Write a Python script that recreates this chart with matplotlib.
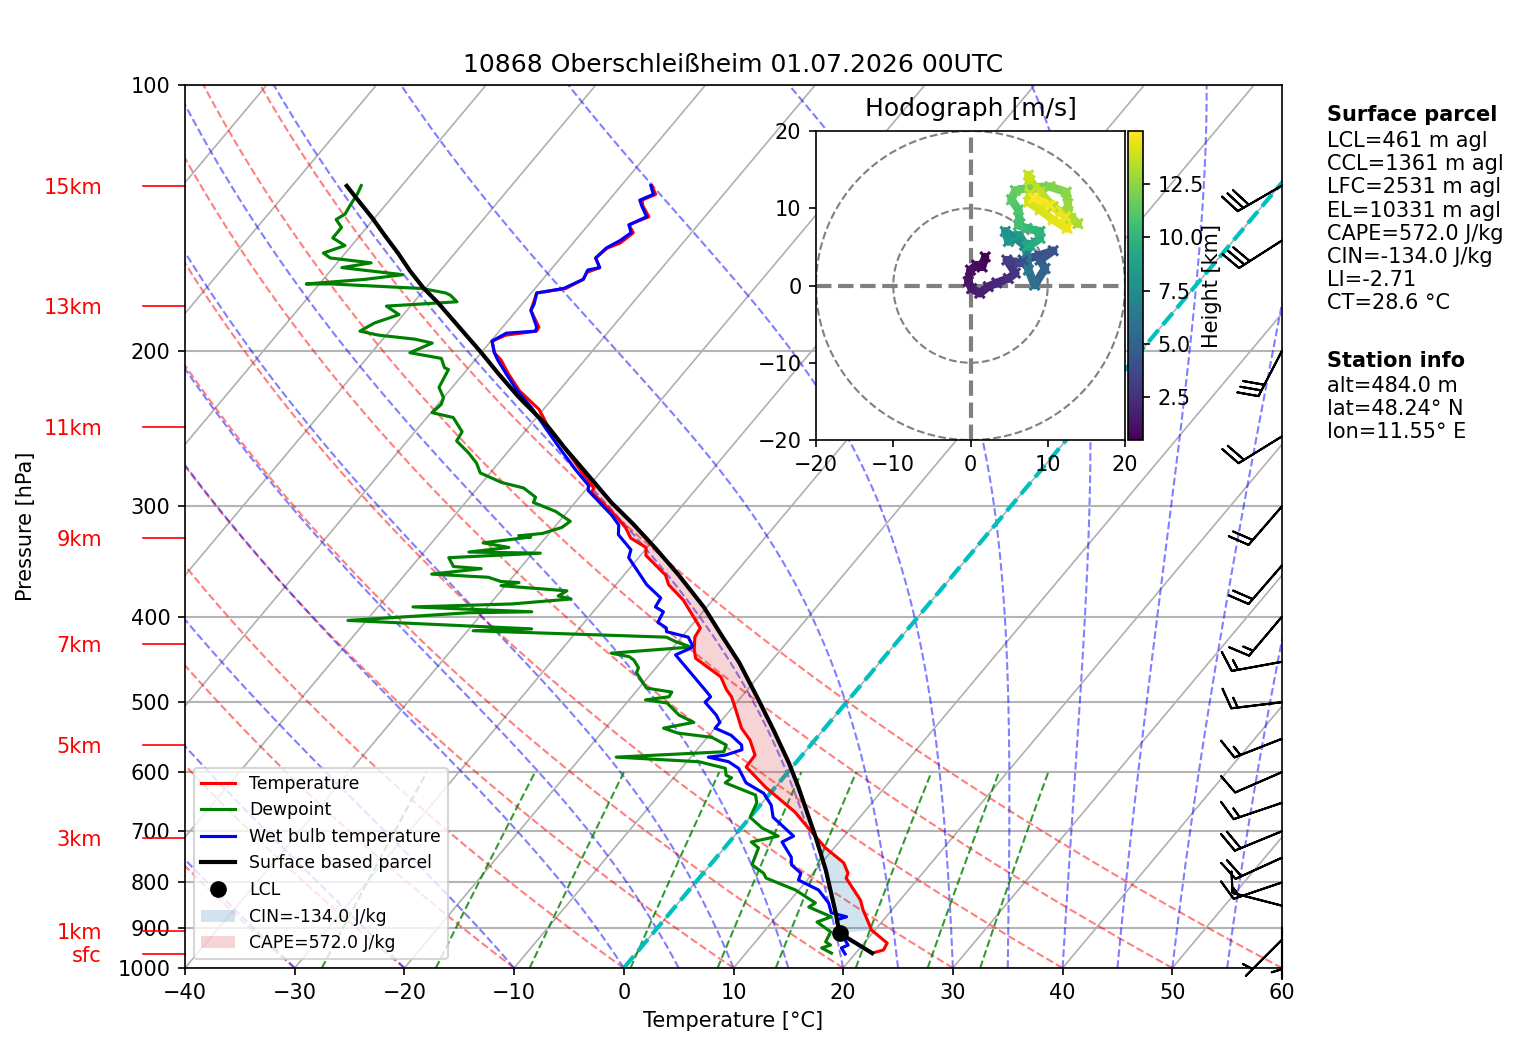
import numpy as np
import matplotlib
matplotlib.use("Agg")
import matplotlib.pyplot as plt
from matplotlib.collections import LineCollection
from matplotlib.ticker import ScalarFormatter, NullFormatter
from matplotlib.transforms import Affine2D

# sounding (hPa, degC)
temp_p = np.array([130,133,135,137,141,144,147,151,153,157,161,163,166,170,172,177,180,188,190,192,195,201,205,212,222,233,244,262,276,286,289,304,317,326,334,341,359,368,383,412,422,436,446,468,484,493,514,535,552,574,592,624,666,701,731,760,781,791,838,860,906,937,954,962], dtype=float)
temp_t = np.array([-57.2,-56.2,-57.0,-56.5,-55.1,-56.3,-55.3,-55.7,-56.5,-56.8,-55.7,-56.5,-56.3,-57.2,-59.5,-59.0,-58.7,-56.7,-56.6,-59.1,-59.9,-58.8,-57.6,-56.0,-53.6,-50.4,-48.2,-44.2,-41.4,-39.4,-39.3,-36.0,-33.5,-32.2,-30.1,-29.5,-26.2,-25.2,-22.7,-19.0,-18.8,-17.9,-17.1,-13.4,-11.9,-10.9,-9.2,-7.6,-5.9,-4.3,-4.2,-0.9,3.7,6.7,9.2,12.0,13.2,13.4,16.4,17.4,19.7,22.1,22.3,21.5])
wet_p = np.array([130,133,135,137,141,144,147,150,153,157,161,162,166,170,172,177,180,188,190,191,195,201,205,212,222,232,245,259,273,284,288,307,315,323,336,343,359,368,381,390,395,406,412,416,422,431,434,442,487,493,500,517,527,535,545,559,566,574,577,584,594,617,634,654,675,709,720,749,764,781,795,816,844,866,875,882,906,942,949,964], dtype=float)
wet_t = np.array([-57.3,-56.4,-57.2,-56.6,-55.3,-56.3,-55.5,-55.9,-56.6,-56.8,-55.7,-56.6,-56.3,-57.4,-59.5,-58.9,-58.7,-56.9,-56.7,-59.2,-59.9,-58.8,-57.9,-56.2,-53.8,-51.2,-48.3,-45.3,-42.4,-40.1,-39.7,-35.7,-34.3,-33.6,-31.3,-30.9,-28.5,-27.2,-24.9,-24.7,-23.6,-23.3,-22.1,-21.8,-19.4,-18.4,-18.3,-19.2,-13.5,-12.8,-12.9,-10.9,-10.0,-10.0,-8.0,-6.3,-5.9,-7.0,-8.4,-6.2,-4.8,-3.0,-0.6,1.0,2.1,5.4,4.8,6.8,7.4,8.9,9.2,11.8,13.7,14.7,16.4,15.7,16.7,18.7,18.3,19.1])
dew_p = np.array([130,133,137,140,142,145,149,152,155,157,159,161,164,166,168,168,170,172,173,176,178,182,186,190,192,194,196,201,204,209,210,220,226,230,235,238,247,253,261,268,275,282,286,293,297,304,312,317,322,324,325,330,334,338,339,343,351,353,358,361,365,366,369,374,379,382,387,390,395,396,404,413,415,422,427,433,440,444,448,457,463,482,487,493,497,501,517,527,535,542,548,559,569,577,584,594,605,609,617,637,650,675,694,709,720,731,764,781,791,816,844,853,875,887,910,934,942,949,962], dtype=float)
dew_t = np.array([-83.7,-83.4,-83.2,-83.0,-83.4,-82.3,-82.3,-80.6,-82.0,-81.0,-76.9,-79.2,-73.1,-76.2,-81.2,-78.9,-70.3,-67.8,-67.2,-66.1,-72.2,-70.4,-72.0,-72.7,-70.7,-67.1,-65.2,-66.5,-63.2,-62.2,-61.7,-61.2,-60.0,-59.7,-59.9,-57.6,-55.7,-55.5,-53.5,-52.0,-50.9,-48.2,-45.8,-44.0,-43.8,-41.1,-39.0,-39.3,-40.6,-42.6,-41.4,-45.3,-42.6,-45.9,-39.3,-47.3,-46.2,-43.5,-47.6,-42.2,-40.7,-39.0,-40.4,-34.0,-34.4,-33.0,-38.0,-46.8,-35.6,-41.3,-51.7,-34.3,-39.5,-21.4,-20.2,-18.4,-25.2,-23.3,-22.6,-21.6,-21.4,-19.3,-16.7,-16.6,-18.5,-16.3,-14.3,-12.4,-14.7,-13.0,-9.6,-7.7,-7.4,-16.8,-8.9,-6.0,-5.4,-4.7,-4.9,-1.2,-0.5,0.0,1.9,4.0,2.0,3.1,3.8,5.5,6.1,9.7,12.5,12.2,15.0,14.1,16.1,16.4,17.1,16.5,17.8])
parcel_p = np.array([130.1,135.7,141.5,147.9,155.0,162.5,169.8,176.6,187.9,200.6,212.4,225.6,234.6,244.0,257.7,272.9,297,314,334,359,390,420,451,497,538,586,624,711,774,866,913,962], dtype=float)
parcel_t = np.array([-85.0,-82.6,-80.2,-77.8,-75.2,-72.7,-70.2,-67.7,-64.0,-60.1,-56.8,-53.2,-50.7,-48.2,-45.1,-41.7,-36.7,-33.1,-29.3,-25.0,-20.3,-16.5,-12.8,-8.2,-4.5,-0.6,2.1,7.5,10.9,15.1,17.0,21.5])
lcl_p = [913]
lcl_t = [17.0]

height_labels = ["15km", "13km", "11km", "9km", "7km", "5km", "3km", "1km", "sfc"]
height_p = [130, 178, 244, 326, 430, 559, 712, 908, 964]

# wind barbs at the right edge (kt)
barb_p = np.array([130, 150, 200, 250, 300, 350, 400, 450, 500, 550, 600, 650, 700, 750, 800, 850, 900, 929], dtype=float)
barb_u = [26, 25, 14, 17, 13, 13, 9.7, 14.8, 14.9, 14, 9.2, 14.2, 18.5, 18.2, 14.2, 9.7, 0, 3.5]
barb_v = [15, 16, 27, 10.5, 15, 15, 11.5, 2.7, 1.8, 5.5, 4, 4.8, 7.6, 8.3, 4.8, -2.5, 5, 3.5]

# hodograph (m/s) with height (km)
hodo_u = [1.9,1.5,.8,0,-.3,.15,1.2,2.3,3.4,4.9,5.8,4.7,6.4,6.8,9,10.7,9,9.65,8.3,7.5,7.3,7,6,4.5,4.9,6.3,7.3,7.7,9,9,7.3,6.2,6.4,6.2,5.3,5.8,7.7,10.3,12.4,12.6,12.6,13.9,13,10.7,9,7.7,7.5,7.7,7.5,9,10.7,12.5,12.3,10.3,8.2]
hodo_v = [3.7,2.4,2.65,2,.5,-.4,-1,-.15,.35,.9,1.6,3.3,2.9,3.3,3.9,4.5,3.3,2.2,.05,2,4.2,5.2,6,7,5.7,6.5,5,5.2,6.1,7,7.4,7.8,8,9.8,11.1,12.3,12.7,12.8,12.1,10.6,9.3,8,8.7,10.2,12.1,13.6,14.3,11.9,10.8,9.8,8.5,7.4,8.9,10.4,11.3]
hodo_h = [.5,.7,.9,1.1,1.3,1.5,1.7,1.9,2.1,2.4,2.7,3.1,3.5,3.8,4.1,4.3,4.6,5,5.8,6.1,6.5,7,7.5,8,8.2,8.5,9.2,9.4,9.7,9.9,10.2,10.5,10.7,11,11.3,11.6,11.9,12.2,12.5,12.7,12.9,13.1,13.3,13.5,13.6,13.7,13.8,13.9,14,14.2,14.4,14.6,14.7,14.8,15]

parcel_lines = ["LCL=461 m agl", "CCL=1361 m agl", "LFC=2531 m agl", "EL=10331 m agl",
                "CAPE=572.0 J/kg", "CIN=-134.0 J/kg", "LI=-2.71", "CT=28.6 °C"]
station_lines = ["alt=484.0 m", "lat=48.24° N", "lon=11.55° E"]

W, H = 1517, 1054
fig = plt.figure(figsize=(W / 150, H / 150), dpi=150)
ax = fig.add_axes([185 / W, (H - 968) / H, 1097 / W, 883 / H])
ax.set_yscale("log")
ax.set_xlim(-40, 60)
ax.set_ylim(1000, 100)
ax.set_autoscale_on(False)
skew = ax.transData + ax.transAxes.inverted() + Affine2D().skew_deg(34, 0) + ax.transAxes

ax.set_xticks(np.arange(-40, 61, 10))
ax.set_yticks(np.arange(100, 1001, 100))
ax.yaxis.set_major_formatter(ScalarFormatter())
ax.yaxis.set_minor_formatter(NullFormatter())
ax.tick_params(axis="y", which="minor", length=0)
ax.grid(axis="y", color="#b4b4b4", lw=1)
ax.set_axisbelow(True)

# isotherms and adiabats
for t in range(-130, 61, 10):
    ax.plot([t, t], [1000, 100], color="#b0b0b0", lw=0.8, transform=skew, zorder=1)
p_ad = np.linspace(1000, 100, 181)
for t in range(-40, 61, 10):
    ax.plot((t + 273.15) * (p_ad / 1000) ** 0.2857 - 273.15, p_ad, color="r", ls="--", lw=1, alpha=0.5, transform=skew, zorder=1)


def lapse(tk, p):
    es = 6.112 * np.exp(17.67 * (tk - 273.15) / (tk - 29.65))
    rs = 0.622 * es / (p - es)
    return (287.05 * tk + 2.5e6 * rs) / (1005.0 + 2.5e6 ** 2 * rs * 0.622 / (287.05 * tk ** 2)) / p


def moist(t0):
    out = [t0 + 273.15]
    for a, b in zip(p_ad[:-1], p_ad[1:]):
        # midpoint step
        mid = out[-1] + lapse(out[-1], a) * (b - a) / 2
        out.append(out[-1] + lapse(mid, (a + b) / 2) * (b - a))
    return np.array(out) - 273.15


for t in list(range(-40, 0, 10)) + list(range(0, 61, 5)):
    ax.plot(moist(t), p_ad, color="b", ls="--", lw=1, alpha=0.5, transform=skew, zorder=1)
p_mix = np.linspace(1000, 600, 41)
for w in [0.0004, 0.001, 0.002, 0.004, 0.007, 0.01, 0.016, 0.024, 0.032]:
    ln_e = np.log(p_mix * w / (0.622 + w) / 6.112)
    ax.plot(243.5 * ln_e / (17.67 - ln_e), p_mix, color="g", ls="--", lw=1, alpha=0.8, transform=skew, zorder=1)
ax.plot([0, 0], [1000, 100], color="c", ls="--", lw=2, transform=skew, zorder=2)

# soundings
ax.plot(temp_t, temp_p, color="r", lw=1.5, transform=skew, label="Temperature", zorder=3)
ax.plot(dew_t, dew_p, color="g", lw=1.5, transform=skew, label="Dewpoint", zorder=3)
ax.plot(wet_t, wet_p, color="b", lw=1.5, transform=skew, label="Wet bulb temperature", zorder=3)
ax.plot(parcel_t, parcel_p, color="k", lw=2, transform=skew, label="Surface based parcel", zorder=4)
ax.plot(lcl_t, lcl_p, "ko", ms=7, ls="none", transform=skew, label="LCL", zorder=5)


def shade(lo, hi, color, label):
    m1 = (temp_p >= lo) & (temp_p <= hi)
    m2 = (parcel_p >= lo) & (parcel_p <= hi)
    ax.fill(np.r_[temp_t[m1], parcel_t[m2][::-1]], np.r_[temp_p[m1], parcel_p[m2][::-1]],
            color=color, alpha=0.2, lw=0, transform=skew, label=label, zorder=2)


shade(700, 915, "tab:blue", "CIN=-134.0 J/kg")
shade(243, 712, "tab:red", "CAPE=572.0 J/kg")
ax.legend(loc="lower left", fontsize=8.3)

# height scale on the left
ytrans = ax.get_yaxis_transform()
for lab, p in zip(height_labels, height_p):
    ax.plot([-0.0383, 0], [p, p], color="r", lw=0.8, transform=ytrans, clip_on=False)
    ax.annotate(lab, (-0.0757, p), xycoords=ytrans, xytext=(0, -1), textcoords="offset points",
                color="r", ha="right", va="center")

ax.barbs(np.ones(len(barb_p)), barb_p, barb_u, barb_v, transform=ytrans, clip_on=False, zorder=6, length=7, lw=1)

ax.set_xlabel("Temperature [°C]")
ax.set_ylabel("Pressure [hPa]")
ax.yaxis.set_label_coords(-0.136, 0.5)
ax.set_title("10868 Oberschleißheim 01.07.2026 00UTC", fontsize=12, pad=6)

# hodograph inset
hax = fig.add_axes([816 / W, (H - 440) / H, 309 / W, 309 / H], zorder=5)
hax.set_xlim(-20, 20)
hax.set_ylim(-20, 20)
hax.set_title("Hodograph [m/s]", fontsize=12, pad=7)
hax.axhline(0, color="gray", ls="--", lw=2)
hax.axvline(0, color="gray", ls="--", lw=2)
ang = np.radians(np.arange(0, 361, 2))
for r in (10, 20):
    hax.plot(r * np.cos(ang), r * np.sin(ang), color="gray", ls="--", lw=1)
xy = np.column_stack([hodo_u, hodo_v])
lc = LineCollection(np.stack([xy[:-1], xy[1:]], axis=1), cmap="viridis", lw=4, capstyle="round")
lc.set_array(np.array(hodo_h[:-1]))
lc.set_clim(0.48, 15)
hax.add_collection(lc)
sc = hax.scatter(hodo_u, hodo_v, c=hodo_h, cmap="viridis", vmin=0.48, vmax=15, marker="x", s=22, zorder=3)
cax = fig.add_axes([1128 / W, (H - 440) / H, 15 / W, 309 / H], zorder=5)
cb = fig.colorbar(sc, cax=cax)
cb.set_ticks([2.5, 5, 7.5, 10, 12.5])
cb.set_label("Height [km]", labelpad=-1)

# side text
fig.text(1327 / W, 1 - 115 / H, "Surface parcel", fontweight="bold", va="center")
for i, line in enumerate(parcel_lines):
    fig.text(1327 / W, 1 - (141 + 23.2 * i) / H, line, va="center")
fig.text(1327 / W, 1 - 361 / H, "Station info", fontweight="bold", va="center")
for i, line in enumerate(station_lines):
    fig.text(1327 / W, 1 - (385.5 + 23.2 * i) / H, line, va="center")

fig.savefig("out.png", dpi=150)
